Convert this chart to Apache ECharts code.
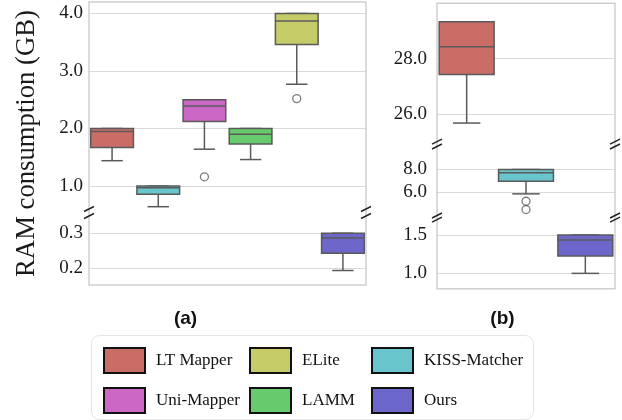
<!DOCTYPE html>
<html>
<head>
<meta charset="utf-8">
<script src="https://cdn.jsdelivr.net/npm/echarts@6/dist/echarts.min.js"></script>
<style>
  html, body { margin: 0; padding: 0; background: #fff; }
  #chart { width: 622px; height: 420px; }
</style>
</head>
<body>
<div id="chart"></div>
<script>
// categories for each panel
const methodsA = ['LT Mapper', 'KISS-Matcher', 'Uni-Mapper', 'LAMM', 'ELite', 'Ours']
const methodsB = ['LT Mapper', 'KISS-Matcher', 'Ours']

// box stats: [lower whisker, Q1, median, Q3, upper whisker] in GB
const ltMapperA = [1.44, 1.67, 1.95, 2.0, 2.0]
const kissMatcherA = [0.64, 0.855, 0.97, 1.0, 1.0]
const uniMapperA = [1.64, 2.12, 2.39, 2.5, 2.5]
const lammA = [1.46, 1.73, 1.90, 2.0, 2.0]
const eliteA = [2.77, 3.46, 3.87, 4.0, 4.0]
const oursA = [0.192, 0.242, 0.286, 0.30, 0.30]

const ltMapperB = [25.67, 27.43, 28.43, 29.33, 29.33]
const kissMatcherB = [5.88, 6.98, 7.71, 8.0, 8.0]
const oursB = [1.0, 1.226, 1.435, 1.5, 1.5]

// outliers
const uniMapperOutA = [1.16]
const eliteOutA = [2.52]
const kissMatcherOutB = [5.24, 4.52]

// tick labels per axis segment
const ticksA1 = [1.0, 2.0, 3.0, 4.0]
const ticksA2 = [0.2, 0.3]
const ticksB1 = [26.0, 28.0]
const ticksB2 = [6.0, 8.0]
const ticksB3 = [1.0, 1.5]

const colors = {
  'LT Mapper' : '#cb6d67',
  'ELite' : '#c5cb67',
  'LAMM' : '#67cb6d',
  'KISS-Matcher' : '#67c5cb',
  'Ours' : '#6d67cb',
  'Uni-Mapper' : '#cb67c5'
}
const edge = '#5a5a5a'
const serif = 'Liberation Serif'
const boxFrac = 0.925

// grid boxes (px)
const A = { left : 89, width : 277 }
const B = { left : 437, width : 178 }
const grids = [
  { left : A.left, width : A.width, top : 2, height : 207 },
  { left : A.left, width : A.width, top : 216, height : 69 },
  { left : B.left, width : B.width, top : 3.3, height : 138.3 },
  { left : B.left, width : B.width, top : 146.5, height : 69 },
  { left : B.left, width : B.width, top : 219.7, height : 69 }
]

const renderBox = ( params, api ) => {
  const x = api.value( 0 )
  const lo = api.coord( [x, api.value( 1 )] )
  const q1 = api.coord( [x, api.value( 2 )] )
  const md = api.coord( [x, api.value( 3 )] )
  const q3 = api.coord( [x, api.value( 4 )] )
  const hi = api.coord( [x, api.value( 5 )] )
  const w = api.size( [1, 0] )[0] * boxFrac
  const cx = md[0]
  const line = ( x1, y1, x2, y2 ) => ( {
    type : 'line', shape : { x1, y1, x2, y2 }, style : { stroke : edge, lineWidth : 1.5 }
  } )
  return {
    type : 'group',
    children : [
      line( cx, q1[1], cx, lo[1] ),
      line( cx, q3[1], cx, hi[1] ),
      line( cx - w / 4, lo[1], cx + w / 4, lo[1] ),
      line( cx - w / 4, hi[1], cx + w / 4, hi[1] ),
      {
        type : 'rect',
        shape : { x : cx - w / 2, y : q3[1], width : w, height : q1[1] - q3[1] },
        style : { fill : api.visual( 'color' ), stroke : edge, lineWidth : 1.5 }
      },
      line( cx - w / 2, md[1], cx + w / 2, md[1] )
    ]
  }
}

const boxSeries = ( name, grid, x, stats ) => ( {
  name,
  type : 'custom',
  xAxisIndex : grid,
  yAxisIndex : grid,
  z : 3,
  clip : false,
  itemStyle : { color : colors[name] },
  renderItem : renderBox,
  encode : { x : 0, y : [1, 2, 3, 4, 5] },
  data : [[x, ...stats]]
} )

const outlierSeries = ( grid, x, values ) => ( {
  name : 'outliers',
  type : 'scatter',
  xAxisIndex : grid,
  yAxisIndex : grid,
  z : 4,
  symbol : 'circle',
  symbolSize : 8,
  itemStyle : { color : '#fff', borderColor : edge, borderWidth : 1.3 },
  data : values.map( v => [x, v] )
} )

const yAxis = ( grid, min, max, ticks, margin ) => ( {
  type : 'value',
  gridIndex : grid,
  min,
  max,
  axisLine : { show : false },
  axisTick : { show : false, customValues : ticks },
  axisLabel : {
    customValues : ticks,
    margin,
    fontFamily : serif,
    fontSize : 19,
    color : '#1a1a1a',
    formatter : v => v.toFixed( 1 )
  },
  splitLine : { show : true, lineStyle : { color : '#d9d9d9', width : 1.2 } }
} )

const xAxis = ( grid, cats ) => ( {
  type : 'category',
  gridIndex : grid,
  data : cats,
  show : false,
  boundaryGap : true
} )

// frame and axis-break marks
const frame = ( g1, g2 ) => ( {
  type : 'rect',
  shape : { x : g1.left, y : g1.top, width : g1.width, height : g2.top + g2.height - g1.top },
  style : { fill : 'none', stroke : '#cfcfcf', lineWidth : 1.5 },
  z : 5
} )
const breakMark = ( x, y ) => ( {
  type : 'line',
  shape : { x1 : x - 5, y1 : y + 2.5, x2 : x + 5, y2 : y - 2.5 },
  style : { stroke : '#222', lineWidth : 1.4 },
  z : 6
} )
const breaks = []
const pairs = [[0, 1], [2, 3], [3, 4]]
pairs.forEach( ( [u, l] ) => {
  const gu = grids[u]
  const gl = grids[l]
  ;[gu.left, gu.left + gu.width].forEach( x => {
    breaks.push( breakMark( x, gu.top + gu.height ) )
    breaks.push( breakMark( x, gl.top ) )
  } )
} )

const legendCol = ( names, left ) => ( {
  data : names,
  orient : 'vertical',
  left,
  top : 347,
  padding : 0,
  icon : 'rect',
  itemWidth : 41,
  itemHeight : 25,
  itemGap : 13,
  selectedMode : false,
  itemStyle : { borderColor : '#111', borderWidth : 2 },
  textStyle : { fontFamily : serif, fontSize : 17, color : '#111', padding : [0, 0, 0, 6] }
} )

const chart = echarts.init( document.getElementById( 'chart' ), null, { renderer : 'canvas' } )
chart.setOption( {
  animation : false,
  backgroundColor : '#fff',
  grid : grids.map( g => ( { ...g, containLabel : false } ) ),
  xAxis : [
    xAxis( 0, methodsA ),
    xAxis( 1, methodsA ),
    xAxis( 2, methodsB ),
    xAxis( 3, methodsB ),
    xAxis( 4, methodsB )
  ],
  yAxis : [
    yAxis( 0, 0.6, 4.2, ticksA1, 6 ),
    yAxis( 1, 0.15, 0.35, ticksA2, 6 ),
    yAxis( 2, 25, 30, ticksB1, 10 ),
    yAxis( 3, 4, 10, ticksB2, 10 ),
    yAxis( 4, 0.8, 1.7, ticksB3, 10 )
  ],
  legend : [
    legendCol( ['LT Mapper', 'Uni-Mapper'], 103 ),
    legendCol( ['ELite', 'LAMM'], 249 ),
    legendCol( ['KISS-Matcher', 'Ours'], 371 )
  ],
  graphic : [
    {
      type : 'rect',
      shape : { x : 91.5, y : 335.5, width : 442, height : 84, r : 8 },
      style : { fill : '#fff', stroke : '#e4e4e4', lineWidth : 1 },
      z : 0
    },
    frame( grids[0], grids[1] ),
    frame( grids[2], grids[4] ),
    ...breaks,
    {
      type : 'text',
      x : 27,
      y : 143.5,
      rotation : Math.PI / 2,
      style : {
        text : 'RAM consumption (GB)',
        fontFamily : serif,
        fontSize : 26.7,
        fill : '#1a1a1a',
        align : 'center',
        verticalAlign : 'middle'
      }
    },
    {
      type : 'text', x : 185.5, y : 319,
      style : { text : '(a)', fontFamily : 'Liberation Sans', fontWeight : 'bold', fontSize : 19, fill : '#111', align : 'center', verticalAlign : 'middle' }
    },
    {
      type : 'text', x : 502.5, y : 319,
      style : { text : '(b)', fontFamily : 'Liberation Sans', fontWeight : 'bold', fontSize : 19, fill : '#111', align : 'center', verticalAlign : 'middle' }
    }
  ],
  series : [
    boxSeries( 'LT Mapper', 0, 0, ltMapperA ),
    boxSeries( 'KISS-Matcher', 0, 1, kissMatcherA ),
    boxSeries( 'Uni-Mapper', 0, 2, uniMapperA ),
    boxSeries( 'LAMM', 0, 3, lammA ),
    boxSeries( 'ELite', 0, 4, eliteA ),
    boxSeries( 'Ours', 1, 5, oursA ),
    boxSeries( 'LT Mapper', 2, 0, ltMapperB ),
    boxSeries( 'KISS-Matcher', 3, 1, kissMatcherB ),
    boxSeries( 'Ours', 4, 2, oursB ),
    outlierSeries( 0, 2, uniMapperOutA ),
    outlierSeries( 0, 4, eliteOutA ),
    outlierSeries( 3, 1, kissMatcherOutB )
  ]
} )
</script>
</body>
</html>
